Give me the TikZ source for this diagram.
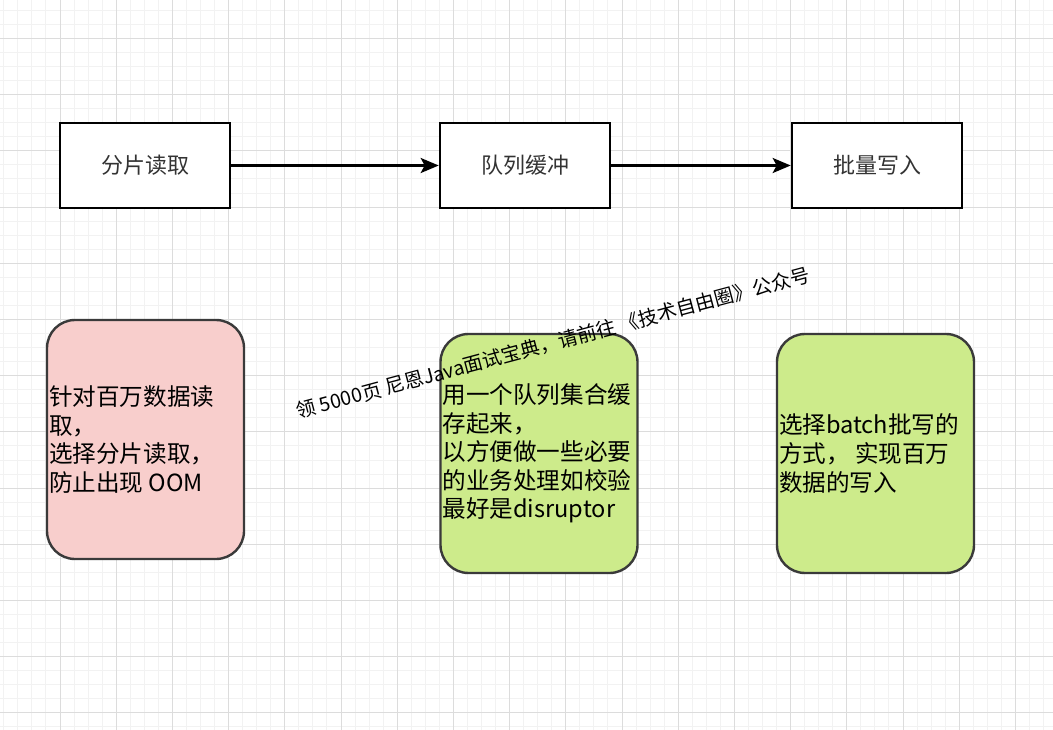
\documentclass[tikz,border=0pt]{standalone}
\usepackage{fontspec}
\setmainfont{Noto Sans CJK SC}
\usetikzlibrary{arrows.meta}
\definecolor{gridminor}{HTML}{F2F2F2}
\definecolor{gridmajor}{HTML}{DCDCDC}
\definecolor{pinkfill}{HTML}{F8CECC}
\definecolor{greenfill}{HTML}{CDEB8B}
\definecolor{darkstroke}{HTML}{3A3A3A}
\definecolor{toptext}{HTML}{333333}
\tikzset{
  stepbox/.style={draw=black, line width=2.6pt, fill=white, minimum width=170pt, minimum height=85pt,
    text=toptext, font=\fontsize{22}{26}\selectfont, inner sep=0pt},
  notebox/.style={draw=darkstroke, line width=2.4pt, rounded corners=28pt, minimum width=197pt, minimum height=239pt, inner sep=0pt},
  notetext/.style={anchor=west, align=left, inner sep=0pt, text=black, font=\fontsize{23.6}{28.6}\selectfont},
  flow/.style={line width=2.6pt, -{Stealth[length=18pt, width=15pt, inset=4pt]}},
}
\begin{document}
\begin{tikzpicture}[x=1pt,y=-1pt]
\useasboundingbox (0,0) rectangle (1053,730);
\fill[white] (0,0) rectangle (1053,730);
% grid
\foreach \i in {0,...,74} \draw[gridminor, line width=1pt] ({3.8+14.05*\i},0) -- ({3.8+14.05*\i},730);
\foreach \j in {0,...,51} \draw[gridminor, line width=1pt] (0,{10.4+14.05*\j}) -- (1053,{10.4+14.05*\j});
\foreach \i in {0,...,17} \draw[gridmajor, line width=1pt] ({60+56.2*\i},0) -- ({60+56.2*\i},730);
\foreach \j in {0,...,12} \draw[gridmajor, line width=1pt] (0,{38.5+56.2*\j}) -- (1053,{38.5+56.2*\j});

% top flow
\node[stepbox] (a) at (145,165.5) {分片读取};
\node[stepbox] (b) at (525,165.5) {队列缓冲};
\node[stepbox] (c) at (877,165.5) {批量写入};
\draw[flow] (a.east) -- (b.west);
\draw[flow] (b.east) -- (c.west);

% notes
\node[notebox, fill=pinkfill] (n1) at (145.5,439.5) {};
\node[notebox, fill=greenfill] (n2) at (539,453.5) {};
\node[notebox, fill=greenfill] (n3) at (875.5,453.5) {};
\node[notetext] (t1) at ([xshift=3pt]n1.west) {针对百万数据读\\取，\\选择分片读取，\\防止出现 OOM};
\node[notetext] (t2) at ([xshift=3pt]n2.west) {用一个队列集合缓\\存起来，\\以方便做一些必要\\的业务处理如校验\\最好是disruptor};
\node[notetext] (t3) at ([xshift=3pt]n3.west) {选择batch批写的\\方式， 实现百万\\数据的写入};

% watermark
\node[rotate=15, inner sep=0pt, font=\fontsize{19.6}{23}\selectfont] (wm) at (553,343) {领 5000页 尼恩Java面试宝典，请前往 《技术自由圈》公众号};
\end{tikzpicture}
\end{document}
